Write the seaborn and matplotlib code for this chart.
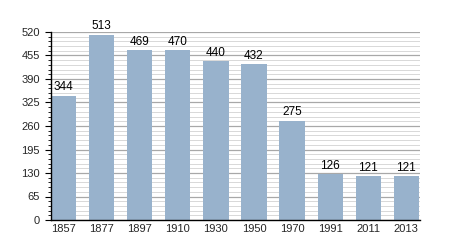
import matplotlib
matplotlib.use("Agg")
import matplotlib.pyplot as plt
import seaborn as sns
import pandas as pd
from matplotlib.ticker import MultipleLocator

years = ["1857", "1877", "1897", "1910", "1930", "1950", "1970", "1991", "2011", "2013"]
population = [344, 513, 469, 470, 440, 432, 275, 126, 121, 121]
y_ticks = [0, 65, 130, 195, 260, 325, 390, 455, 520]

df = pd.DataFrame({"year": years, "pop": population})

sns.set_style("white")
plt.rcParams["font.family"] = ["Liberation Sans", "DejaVu Sans"]

fig = plt.figure(figsize=(4.5, 2.5), dpi=100)
ax = fig.add_axes([0.113, 0.12, 0.82, 0.752])

sns.barplot(data=df, x="year", y="pop", color="#98b2cc", saturation=1,
            width=0.66, ax=ax, zorder=3, linewidth=0, edgecolor="none")

for i, v in enumerate(population):
    ax.text(i, v + 6, str(v), ha="center", va="bottom", fontsize=8.5, color="black", zorder=4)

ax.set_ylim(0, 520)
ax.set_xlim(-0.34, 9.36)
ax.set_yticks(y_ticks)
ax.yaxis.set_minor_locator(MultipleLocator(13))
ax.grid(axis="y", which="major", color="#a8a8a8", linewidth=0.9, zorder=0)
ax.grid(axis="y", which="minor", color="#d8d8d8", linewidth=0.7, zorder=0)
ax.set_axisbelow(True)

for s in ["top", "right"]:
    ax.spines[s].set_visible(False)
for s in ["left", "bottom"]:
    ax.spines[s].set_color("black")
    ax.spines[s].set_linewidth(1)
    ax.spines[s].set_zorder(5)

ax.tick_params(axis="y", which="major", direction="out", length=4, width=0.8,
               color="black", labelsize=8, pad=4, left=True)
ax.tick_params(axis="y", which="minor", direction="out", length=2.2, width=0.6,
               color="black", left=True)
ax.tick_params(axis="x", which="major", length=0, labelsize=8, pad=3)
ax.set_xlabel("")
ax.set_ylabel("")

fig.savefig("out.png", dpi=100)
